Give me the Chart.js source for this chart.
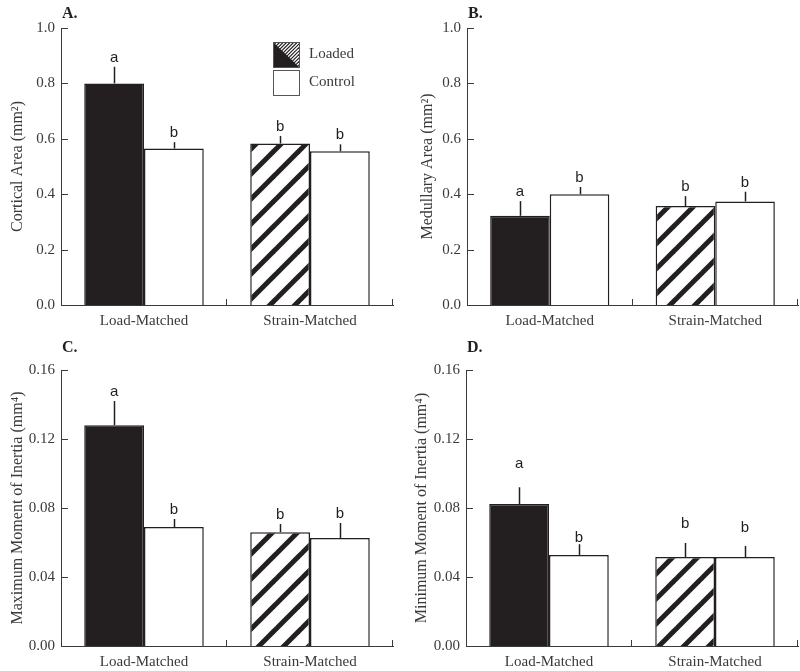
<!DOCTYPE html>
<html>
<head>
<meta charset="utf-8">
<script src="https://cdn.jsdelivr.net/npm/chart.js@4"></script>
<style>
  body { margin: 0; background: #fff; }
  #wrap { position: relative; width: 800px; height: 671px; background: #fff; }
  canvas { position: absolute; }
</style>
</head>
<body>
<div id="wrap">
  <canvas id="chartA" width="400" height="330" style="left:0;top:0"></canvas>
  <canvas id="chartB" width="400" height="330" style="left:400px;top:0"></canvas>
  <canvas id="chartC" width="400" height="341" style="left:0;top:330px"></canvas>
  <canvas id="chartD" width="400" height="341" style="left:400px;top:330px"></canvas>
</div>
<script>
const categorias = ['Load-Matched', 'Strain-Matched'];
const letrasLoaded = ['a', 'b'];
const letrasControl = ['b', 'b'];

// A. cortical area (mm2)
const corticalLoaded = [0.80, 0.583];
const corticalLoadedErr = [0.06, 0.027];
const corticalControl = [0.565, 0.555];
const corticalControlErr = [0.023, 0.025];

// B. medullary area (mm2)
const medullaryLoaded = [0.322, 0.357];
const medullaryLoadedErr = [0.053, 0.036];
const medullaryControl = [0.40, 0.374];
const medullaryControlErr = [0.026, 0.035];

// C. maximum moment of inertia (mm4)
const maxLoaded = [0.128, 0.066];
const maxLoadedErr = [0.014, 0.0047];
const maxControl = [0.069, 0.0626];
const maxControlErr = [0.0046, 0.0087];

// D. minimum moment of inertia (mm4)
const minLoaded = [0.0823, 0.0516];
const minLoadedErr = [0.0097, 0.0081];
const minControl = [0.0528, 0.0516];
const minControlErr = [0.0062, 0.0064];

const tinta = '#231f20';
const eixo = '#3a3a3a';
const serif = '"Liberation Serif", "Times New Roman", serif';

// listras diagonais da barra "loaded" no strain-matched
function hachura() {
  const p = 25;
  const c = document.createElement('canvas');
  c.width = p; c.height = p;
  const g = c.getContext('2d');
  g.fillStyle = '#fff';
  g.fillRect(0, 0, p, p);
  g.strokeStyle = tinta;
  g.lineWidth = 5;
  [-p, 0, p].forEach(o => {
    g.beginPath();
    g.moveTo(o - 10, p + 10);
    g.lineTo(o + p + 10, -10);
    g.stroke();
  });
  return g.createPattern(c, 'repeat');
}

const extras = {
  id: 'extras',
  afterDraw(chart, args, opts) {
    const ctx = chart.ctx;
    const area = chart.chartArea;
    const x = chart.scales.x;
    const y = chart.scales.y;
    ctx.save();
    ctx.strokeStyle = eixo;
    ctx.lineWidth = 1;

    // ticks para dentro no eixo y
    y.ticks.forEach(t => {
      const py = Math.round(y.getPixelForValue(t.value)) + 0.5;
      ctx.beginPath();
      ctx.moveTo(area.left, py);
      ctx.lineTo(area.left + 7, py);
      ctx.stroke();
    });

    // ticks no eixo x entre as categorias e no fim
    const meio = (x.getPixelForValue(0) + x.getPixelForValue(1)) / 2;
    [meio, area.right].forEach(px => {
      px = Math.round(px) - 0.5;
      ctx.beginPath();
      ctx.moveTo(px, area.bottom);
      ctx.lineTo(px, area.bottom - 6);
      ctx.stroke();
    });

    // barras de erro e letras
    ctx.strokeStyle = tinta;
    ctx.fillStyle = tinta;
    ctx.lineWidth = 1.5;
    ctx.font = '15px "Liberation Sans", Arial, sans-serif';
    ctx.textAlign = 'center';
    ctx.textBaseline = 'alphabetic';
    chart.data.datasets.forEach((ds, i) => {
      const meta = chart.getDatasetMeta(i);
      meta.data.forEach((bar, j) => {
        const topo = y.getPixelForValue(ds.data[j] + ds.erros[j]);
        const bx = Math.round(bar.x) + 0.5;
        ctx.beginPath();
        ctx.moveTo(bx, bar.y);
        ctx.lineTo(bx, topo);
        ctx.stroke();
        const gap = opts.gaps ? opts.gaps[i][j] : 5;
        ctx.fillText(ds.letras[j], bar.x, topo - gap);
      });
    });

    // letra do painel
    ctx.font = 'bold 16px ' + serif;
    ctx.textAlign = 'left';
    ctx.fillStyle = tinta;
    ctx.fillText(opts.rotulo, area.left + 1, opts.rotuloY);

    // legenda so no painel A
    if (opts.legenda) {
      const lx = area.left + 212;
      const ly = area.top + 14;
      const w = 26, h = 25;
      // quadrado loaded: metade preta, metade hachurada
      ctx.save();
      ctx.beginPath();
      ctx.rect(lx, ly, w, h);
      ctx.clip();
      ctx.fillStyle = '#fff';
      ctx.fillRect(lx, ly, w, h);
      ctx.strokeStyle = tinta;
      ctx.lineWidth = 1.2;
      for (let k = -h; k < w + h; k += 3.5) {
        ctx.beginPath();
        ctx.moveTo(lx + k, ly + h);
        ctx.lineTo(lx + k + h, ly);
        ctx.stroke();
      }
      ctx.fillStyle = tinta;
      ctx.beginPath();
      ctx.moveTo(lx, ly);
      ctx.lineTo(lx + w, ly + h);
      ctx.lineTo(lx, ly + h);
      ctx.closePath();
      ctx.fill();
      ctx.restore();
      ctx.strokeStyle = '#555';
      ctx.lineWidth = 1;
      ctx.strokeRect(lx + 0.5, ly + 0.5, w, h);
      ctx.strokeRect(lx + 0.5, ly + h + 3.5, w, h);
      ctx.fillStyle = eixo;
      ctx.font = '15px ' + serif;
      ctx.textBaseline = 'middle';
      ctx.fillText('Loaded', lx + 36, ly + h / 2);
      ctx.fillText('Control', lx + 36, ly + h + 3 + h / 2);
    }
    ctx.restore();
  }
};

function painel(id, cfg) {
  const config = {
    type: 'bar',
    data: {
      labels: categorias,
      datasets: [{
        label: 'Loaded',
        data: cfg.loaded,
        erros: cfg.loadedErr,
        letras: letrasLoaded,
        backgroundColor: [tinta, hachura()],
        borderColor: tinta,
        borderWidth: 1.5
      }, {
        label: 'Control',
        data: cfg.control,
        erros: cfg.controlErr,
        letras: letrasControl,
        backgroundColor: '#fff',
        borderColor: tinta,
        borderWidth: 1.5
      }]
    },
    options: {
      responsive: false,
      animation: false,
      events: [],
      categoryPercentage: 0.72,
      barPercentage: 1.0,
      layout: { padding: { left: 0, top: cfg.top, right: cfg.right, bottom: 0 } },
      plugins: {
        legend: { display: false },
        tooltip: { enabled: false },
        extras: { rotulo: cfg.rotulo, rotuloY: cfg.rotuloY, legenda: cfg.legenda, gaps: cfg.gaps }
      },
      scales: {
        x: {
          grid: { display: false, drawTicks: false },
          border: { display: true, color: eixo, width: 1 },
          ticks: { color: eixo, padding: 7, font: { family: serif, size: 15 } },
          afterFit: s => { s.height = 25; }
        },
        y: {
          min: 0,
          max: cfg.max,
          grid: { display: false, drawTicks: false },
          border: { display: true, color: eixo, width: 1 },
          ticks: {
            stepSize: cfg.step,
            color: eixo,
            padding: 6,
            font: { family: serif, size: 15 },
            callback: v => v.toFixed(cfg.casas)
          },
          title: {
            display: true,
            text: cfg.titulo,
            color: eixo,
            font: { family: serif, size: 16 },
            padding: { top: cfg.tituloPad, bottom: 0 }
          },
          afterFit: s => { s.width = cfg.yW; }
        }
      }
    },
    plugins: [extras]
  };
  return new Chart(document.getElementById(id), config);
}

painel('chartA', {
  loaded: corticalLoaded, loadedErr: corticalLoadedErr,
  control: corticalControl, controlErr: corticalControlErr,
  max: 1.0, step: 0.2, casas: 1,
  titulo: 'Cortical Area (mm²)', tituloPad: 8,
  yW: 61, top: 28, right: 7,
  rotulo: 'A.', rotuloY: 18, legenda: true
});

painel('chartB', {
  loaded: medullaryLoaded, loadedErr: medullaryLoadedErr,
  control: medullaryControl, controlErr: medullaryControlErr,
  max: 1.0, step: 0.2, casas: 1,
  titulo: 'Medullary Area (mm²)', tituloPad: 18,
  yW: 67, top: 28, right: 2,
  rotulo: 'B.', rotuloY: 18
});

painel('chartC', {
  loaded: maxLoaded, loadedErr: maxLoadedErr,
  control: maxControl, controlErr: maxControlErr,
  max: 0.16, step: 0.04, casas: 2,
  titulo: 'Maximum Moment of Inertia (mm⁴)', tituloPad: 8,
  yW: 61, top: 40, right: 7,
  rotulo: 'C.', rotuloY: 22
});

painel('chartD', {
  loaded: minLoaded, loadedErr: minLoadedErr,
  control: minControl, controlErr: minControlErr,
  max: 0.16, step: 0.04, casas: 2,
  titulo: 'Minimum Moment of Inertia (mm⁴)', tituloPad: 12,
  yW: 66, top: 40, right: 2,
  rotulo: 'D.', rotuloY: 22,
  gaps: [[19, 15], [2, 14]]
});
</script>
</body>
</html>
